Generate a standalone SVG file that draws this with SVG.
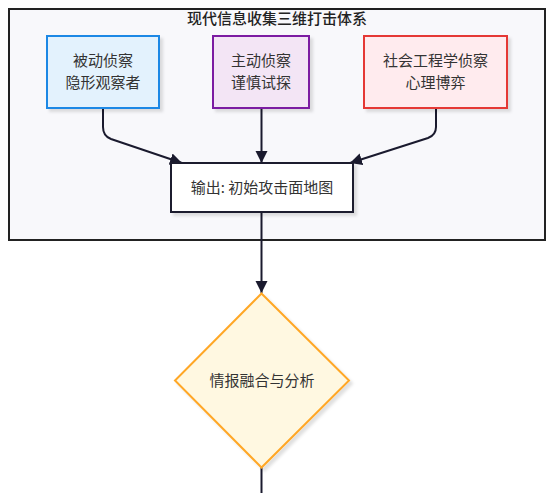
<svg xmlns="http://www.w3.org/2000/svg" width="554" height="493" viewBox="0 0 554 493">
<style>
text{font-family:"Noto Sans CJK SC","Noto Sans",sans-serif;font-size:15px;fill:#333;text-anchor:middle;}
.title{font-size:15px;fill:#222;font-weight:500;}
.edge{fill:none;stroke:#1a1a2e;stroke-width:2;}
.node{stroke-width:2;}
</style>
<defs>
<filter id="sh" x="-10%" y="-10%" width="130%" height="130%">
<feDropShadow dx="3" dy="3" stdDeviation="1.5" flood-color="#000" flood-opacity="0.12"/>
</filter>
<marker id="arr" markerUnits="userSpaceOnUse" markerWidth="13" markerHeight="13" refX="12" refY="6" orient="auto">
<path d="M0,0 L12,6 L0,12 z" fill="#1a1a2e"/>
</marker>
</defs>
<rect width="554" height="493" fill="#fff"/>
<g id="cluster">
<rect x="9" y="9" width="536" height="231" fill="#f8f8fb" stroke="#222" stroke-width="2"/>
<text class="title" x="277" y="24">现代信息收集三维打击体系</text>
</g>
<g id="edges">
<path class="edge" d="M103,108 L103,127 Q103,136 111,139 L182,163" marker-end="url(#arr)"/>
<path class="edge" d="M261.5,108 L261.5,163" marker-end="url(#arr)"/>
<path class="edge" d="M436,108 L436,127 Q436,135 428,138 L350,163" marker-end="url(#arr)"/>
<path class="edge" d="M261.5,212 L261.5,293" marker-end="url(#arr)"/>
<path class="edge" d="M261.5,467 L261.5,493"/>
</g>
<g id="passive">
<rect class="node" x="47" y="36" width="112" height="72" fill="#e3f2fd" stroke="#1e88e5" filter="url(#sh)"/>
<text x="103" y="66">被动侦察</text>
<text x="103" y="88">隐形观察者</text>
</g>
<g id="active">
<rect class="node" x="213" y="36" width="96" height="72" fill="#f3e5f5" stroke="#7b1fa2" filter="url(#sh)"/>
<text x="261" y="66">主动侦察</text>
<text x="261" y="88">谨慎试探</text>
</g>
<g id="social">
<rect class="node" x="364" y="36" width="143" height="72" fill="#ffebee" stroke="#e53935" filter="url(#sh)"/>
<text x="435.5" y="66">社会工程学侦察</text>
<text x="435.5" y="88">心理博弈</text>
</g>
<g id="output">
<rect class="node" x="171" y="163" width="182" height="49" fill="#fff" stroke="#1a1a2e" filter="url(#sh)"/>
<text x="262" y="192.5">输出: 初始攻击面地图</text>
</g>
<g id="fusion">
<polygon class="node" points="261.5,293.5 349,380.5 261.5,467.5 175,380.5" fill="#fff8e1" stroke="#ffa726" filter="url(#sh)"/>
<text x="262" y="386">情报融合与分析</text>
</g>
</svg>
